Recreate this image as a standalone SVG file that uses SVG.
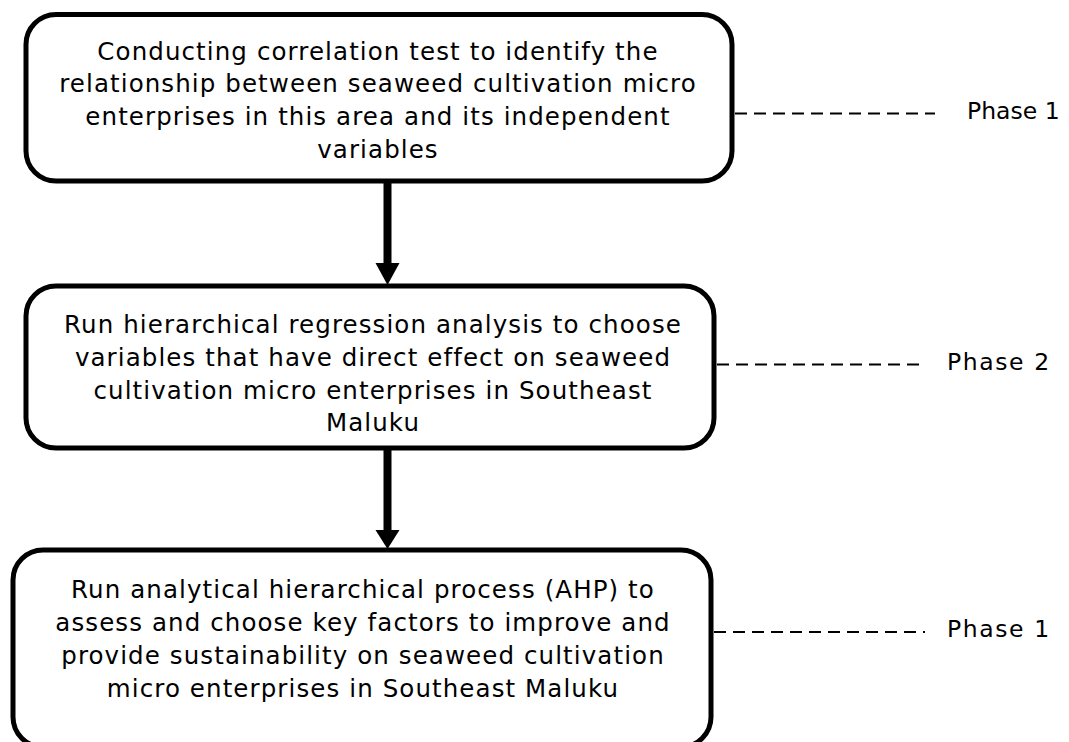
<svg xmlns="http://www.w3.org/2000/svg" width="1069" height="742" viewBox="0 0 1069 742">
<style>
.box{fill:#fff;stroke:#000;stroke-width:5}
.t{font-family:"DejaVu Sans","Verdana",sans-serif;font-size:24.5px;letter-spacing:1.1px;fill:#000;text-anchor:middle}
.p{font-family:"DejaVu Sans","Verdana",sans-serif;font-size:23.5px;fill:#000}
.pw{letter-spacing:1.6px}
.dash{stroke:#000;stroke-width:2;stroke-dasharray:12 7;fill:none}
.shaft{stroke:#000;stroke-width:8;fill:none}
</style>
<rect width="1069" height="742" fill="#fff"/>
<g id="connectors">
<line class="shaft" x1="387.5" y1="182" x2="387.5" y2="264"/>
<polygon points="375.5,263 399.5,263 387.5,285"/>
<line class="shaft" x1="387.5" y1="449" x2="387.5" y2="531"/>
<polygon points="375.5,530 399.5,530 387.5,549"/>
<line class="dash" x1="735" y1="113.5" x2="935" y2="113.5"/>
<line class="dash" x1="717" y1="364.5" x2="922" y2="364.5"/>
<line class="dash" x1="714" y1="632" x2="925" y2="632"/>
</g>
<g id="node1">
<rect class="box" x="26" y="14.5" width="706" height="166.5" rx="30"/>
<text class="t" x="378" y="59.5">Conducting correlation test to identify the</text>
<text class="t" x="378" y="92">relationship between seaweed cultivation micro</text>
<text class="t" x="378" y="125">enterprises in this area and its independent</text>
<text class="t" x="378" y="158">variables</text>
</g>
<g id="node2">
<rect class="box" x="26" y="286" width="688" height="162" rx="30"/>
<text class="t" x="373" y="333">Run hierarchical regression analysis to choose</text>
<text class="t" x="373" y="366">variables that have direct effect on seaweed</text>
<text class="t" x="373" y="398.5">cultivation micro enterprises in Southeast</text>
<text class="t" x="373" y="431">Maluku</text>
</g>
<g id="node3">
<rect class="box" x="13" y="550" width="698" height="197" rx="30"/>
<text class="t" x="363" y="598">Run analytical hierarchical process (AHP) to</text>
<text class="t" x="363" y="631">assess and choose key factors to improve and</text>
<text class="t" x="363" y="664">provide sustainability on seaweed cultivation</text>
<text class="t" x="363" y="696.5">micro enterprises in Southeast Maluku</text>
</g>
<g id="label1"><text class="p" x="967" y="118.5">Phase 1</text></g>
<g id="label2"><text class="p pw" x="947" y="370">Phase 2</text></g>
<g id="label3"><text class="p pw" x="947" y="637">Phase 1</text></g>
</svg>
